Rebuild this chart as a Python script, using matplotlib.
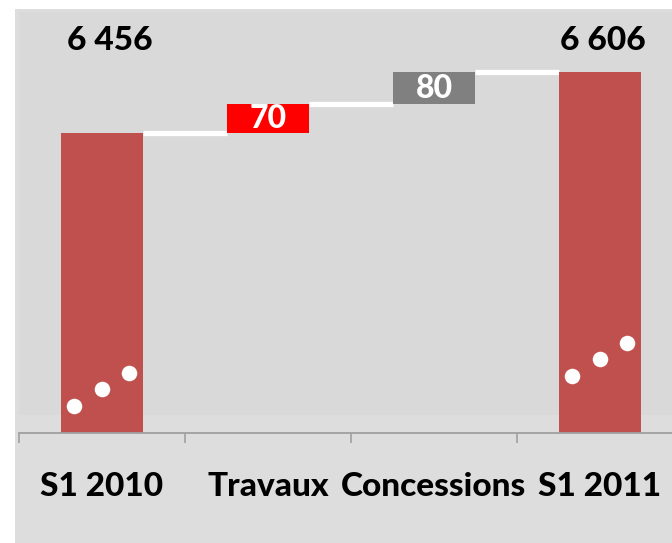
import matplotlib
matplotlib.use("Agg")
import matplotlib.pyplot as plt
from matplotlib.patches import Rectangle

# donnees du graphique (cascade S1 2010 -> S1 2011)
categories = ["S1 2010", "Travaux", "Concessions", "S1 2011"]
debut = 6456
variations = [70, 80]
fin = 6606
labels_total = ["6 456", "6 606"]
labels_var = ["70", "80"]
couleurs_var = ["#FF0000", "#808080"]

# points blancs = coupure de l'axe (decalage x par rapport au centre, valeur y)
coupure_dx = [-0.17, 0.0, 0.16]
coupure_y_debut = [5784, 5826, 5866]
coupure_y_fin = [5858, 5900, 5939]

y_min, y_max = 5718, 6753
y_labels = 6682
largeur = 0.49

plt.rcParams['font.family'] = ['Lato', 'DejaVu Sans']
poids = 900

W, H = 672, 543
fig = plt.figure(figsize=(W / 100, H / 100), dpi=100, facecolor="white")
# zone de graphique
fig.patches.append(Rectangle((15 / W, 0), 1, (H - 9) / H, transform=fig.transFigure,
                             facecolor="#DDDDDD", edgecolor="none", zorder=-1))

ax = fig.add_axes([19 / W, (H - 433) / H, 664 / W, 421 / H])
ax.set_facecolor("none")
ax.set_xlim(-0.5, 3.5)
ax.set_ylim(y_min, y_max)
# zone de traçage (un peu plus foncee)
ax.add_patch(Rectangle((0, 18 / 421), 1, 1, transform=ax.transAxes,
                       facecolor="#D9D9D9", edgecolor="none", zorder=0))

rouge = "#C0504D"
ax.bar(0, debut - y_min, bottom=y_min, width=largeur, color=rouge, zorder=2)
ax.bar(3, fin - y_min, bottom=y_min, width=largeur, color=rouge, zorder=2)

niveau = debut
niveaux = [debut]
for i, v in enumerate(variations):
    ax.bar(i + 1, v, bottom=niveau, width=largeur, color=couleurs_var[i], zorder=2)
    ax.text(i + 1, niveau + v / 2, labels_var[i], color="white", fontsize=23,
            fontweight=poids, ha="center", va="center", zorder=4)
    niveau += v
    niveaux.append(niveau)

# lignes de liaison
for i, n in enumerate(niveaux):
    ax.plot([i + largeur / 2, i + 1 - largeur / 2], [n, n], color="white", lw=3.8,
            solid_capstyle="butt", zorder=1)

# totaux
ax.text(0.05, y_labels, labels_total[0], fontsize=24, fontweight=poids, ha="center", va="center")
ax.text(3.02, y_labels, labels_total[1], fontsize=24, fontweight=poids, ha="center", va="center")

# points de coupure
ax.scatter([0 + d for d in coupure_dx], coupure_y_debut, s=125, color="white", zorder=3, linewidths=0)
ax.scatter([3 + d for d in coupure_dx], coupure_y_fin, s=125, color="white", zorder=3, linewidths=0)

for s in ["top", "right", "left"]:
    ax.spines[s].set_visible(False)
ax.spines["bottom"].set_color("#A0A0A0")
ax.spines["bottom"].set_linewidth(1.3)
ax.spines["bottom"].set_zorder(3)
ax.set_yticks([])
ax.set_xticks(range(4))
ax.set_xticklabels(categories, fontsize=24, fontweight=poids)
ax.tick_params(axis="x", which="major", length=0, pad=28)
ax.set_xticks([-0.5, 0.5, 1.5, 2.5, 3.5], minor=True)
ax.tick_params(axis="x", which="minor", length=7.5, width=1.2, color="#A0A0A0")

fig.savefig("out.png", dpi=100, facecolor="white")
